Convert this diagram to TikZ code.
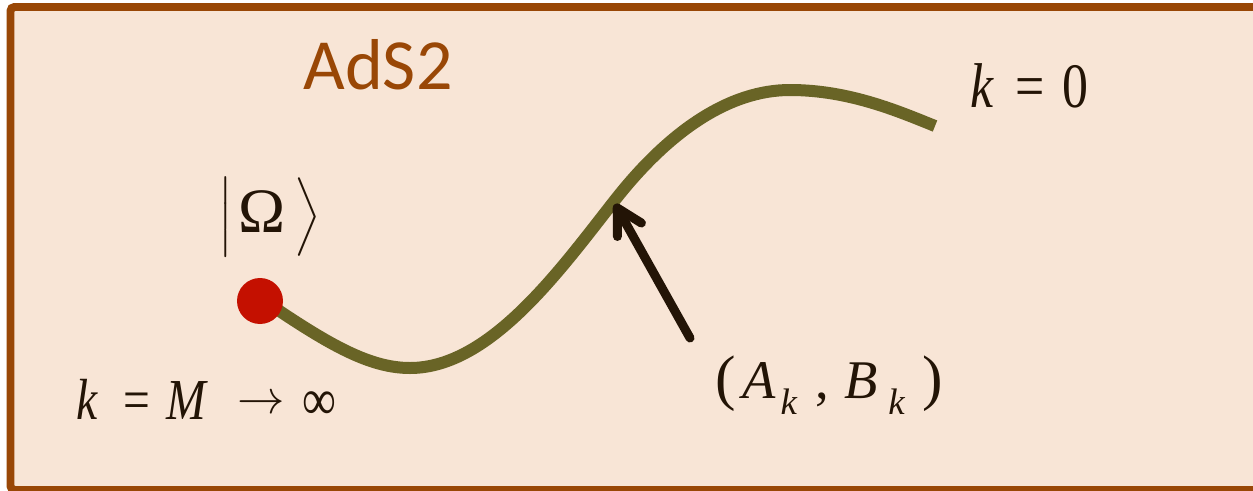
\RequirePackage{fix-cm}
\documentclass[tikz,border=0pt]{standalone}
\usepackage{amsmath}
\usepackage{fontspec}
\setmainfont{Liberation Serif}
\newfontfamily\eqfont{Liberation Serif}[FakeStretch=0.82]
\newfontfamily\carlito{Carlito}
\usetikzlibrary{arrows.meta}
\definecolor{framebrown}{RGB}{153,71,6}
\definecolor{peach}{RGB}{248,229,214}
\definecolor{olivepath}{RGB}{105,100,38}
\definecolor{dotred}{RGB}{196,16,0}
\definecolor{ink}{RGB}{35,20,6}

\begin{document}
\begin{tikzpicture}[x=0.02cm,y=-0.02cm]
  \tikzstyle{eq}=[text=ink,inner sep=0pt]
  \tikzstyle{flow}=[olivepath,line width=0.24cm]
  \useasboundingbox (0,0) rectangle (1253,490);
  \fill[peach] (10,7) rectangle (1265,490);
  \draw[framebrown,line width=0.16cm,rounded corners=0.08cm] (10.5,7) rectangle (1270,490);
  \node[text=framebrown,inner sep=0pt,font=\carlito\fontsize{41}{41}\selectfont] (title) at (378,65) {AdS2};
  % the path of couplings
  \coordinate (P_0) at (272,306);
  \coordinate (P_1) at (410,368);
  \coordinate (P_2) at (615,200);
  \coordinate (P_3) at (790,90);
  \coordinate (P_4) at (935,126);
  \draw[flow] (P_0) .. controls (330,345) and (370,368) .. (P_1)
    .. controls (490,368) and (560,270) .. (P_2)
    .. controls (670,130) and (730,90) .. (P_3)
    .. controls (850,90) and (900,112) .. (P_4);
  \node[circle,fill=dotred,minimum size=0.92cm,inner sep=0pt] (vac) at (260,301) {};
  \node[eq,font=\fontsize{36}{40}\selectfont] (ket) at (270,217)
    {$\left|\rule[-0.4em]{0pt}{1.3em}\hspace{3pt}\mbox{Ω}\hspace{5.5pt}\right\rangle$};
  \node[eq,anchor=base west,font=\eqfont\fontsize{36}{40}\selectfont] (kzero) at (970,107)
    {\textit{k}\hspace{12pt}=\hspace{10pt}0};
  \node[eq,anchor=base west,font=\eqfont\fontsize{33}{38}\selectfont] (kinf) at (76,419)
    {\textit{k}\hspace{14.5pt}=\hspace{9pt}\textit{M}\hspace{17pt}\raisebox{3pt}{\fontsize{27}{27}\selectfont$\rightarrow$}\hspace{10pt}∞};
  \node[eq,anchor=base west,font=\fontsize{31}{34}\selectfont] (AB) at (715,398)
    {{\fontsize{35}{35}\selectfont(}\hspace{4pt}\textit{A}\hspace{2.5pt}\raisebox{-9.6pt}{\fontsize{21}{21}\selectfont\textit{k}}\hspace{10pt},\hspace{9pt}\textit{B}\hspace{6pt}\raisebox{-9.6pt}{\fontsize{21}{21}\selectfont\textit{k}}\hspace{10pt}{\fontsize{35}{35}\selectfont)}};
  \coordinate (tail) at (690,338);
  \coordinate (tip) at (615,204);
  \draw[ink,line width=0.18cm,line cap=round,-{Straight Barb[length=0.5cm,width=0.55cm,round]}] (tail) -- (tip);
\end{tikzpicture}
\end{document}
